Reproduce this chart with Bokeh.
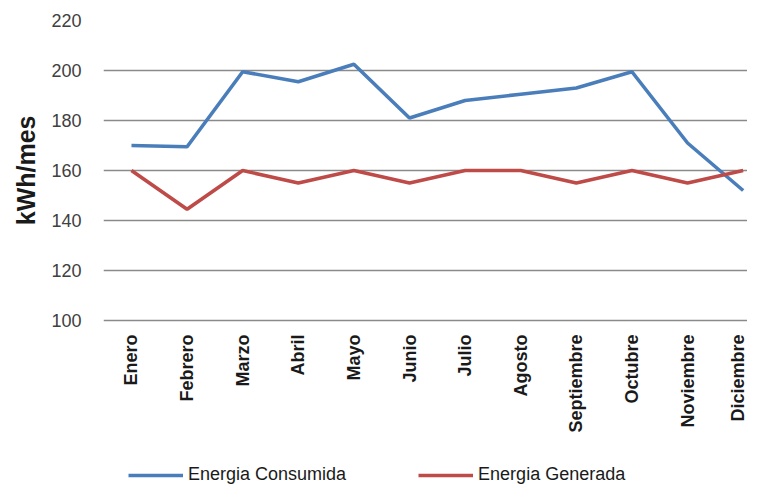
import math
from bokeh.plotting import figure
from bokeh.models import Range1d, FixedTicker, Legend, LegendItem, ColumnDataSource, Title
from bokeh.embed import file_html
from bokeh.resources import INLINE

meses = ["Enero", "Febrero", "Marzo", "Abril", "Mayo", "Junio", "Julio",
         "Agosto", "Septiembre", "Octubre", "Noviembre", "Diciembre"]
consumida = [170, 169.5, 199.5, 195.5, 202.5, 181, 188, 190.5, 193, 199.5, 171, 152]
generada = [160, 144.5, 160, 155, 160, 155, 160, 160, 155, 160, 155, 160]
y_ticks = [100, 120, 140, 160, 180, 200, 220]
y_titulo = "kWh/mes"
serie_nombres = ["Energia Consumida", "Energia Generada"]

idx = list(range(len(meses)))
src = ColumnDataSource(dict(x=idx, c=consumida, g=generada))

H = 486
TOP = 20
PX_PER_UNIT = 2.5
y_start = 220 - (H - TOP) / PX_PER_UNIT

p = figure(width=747, height=H, output_backend="svg", toolbar_location=None,
           x_range=Range1d(-0.503, 11.078), y_range=Range1d(y_start, 220),
           min_border_left=102, min_border_top=TOP, min_border_bottom=0,
           min_border_right=0)
p.outline_line_color = None
p.background_fill_color = "white"
p.border_fill_color = "white"

r1 = p.line("x", "c", source=src, line_color="#4A7EBB", line_width=3.6)
r2 = p.line("x", "g", source=src, line_color="#BE4B48", line_width=3.6)

# y axis
p.yaxis.ticker = FixedTicker(ticks=y_ticks)
p.yaxis.axis_line_color = None
p.yaxis.major_tick_line_color = None
p.yaxis.minor_tick_line_color = None
p.yaxis.major_tick_out = 0
p.yaxis.major_label_standoff = 22
p.yaxis.major_label_text_font = "Liberation Sans"
p.yaxis.major_label_text_font_size = "18px"
p.yaxis.major_label_text_color = "#404040"

# y title placed next to the 100-220 span (top aligned)
ytitle = Title(text=y_titulo, align="right", offset=95, standoff=18,
               text_font="Liberation Sans", text_font_style="bold",
               text_font_size="25px", text_color="#1a1a1a")
p.add_layout(ytitle, "left")

p.ygrid.ticker = FixedTicker(ticks=y_ticks)
p.ygrid.grid_line_color = "#8a8a8a"
p.ygrid.grid_line_width = 1.3
p.xgrid.visible = False

# x axis drawn at y = 100
p.xaxis.fixed_location = y_ticks[0]
p.xaxis.ticker = FixedTicker(ticks=idx)
p.xaxis.major_label_overrides = {i: m for i, m in zip(idx, meses)}
p.xaxis.major_label_orientation = math.pi / 2
p.xaxis.axis_line_color = None
p.xaxis.major_tick_line_color = None
p.xaxis.minor_tick_line_color = None
p.xaxis.major_tick_out = 0
p.xaxis.major_label_standoff = 14
p.xaxis.major_label_text_font = "Liberation Sans"
p.xaxis.major_label_text_font_style = "bold"
p.xaxis.major_label_text_font_size = "18px"
p.xaxis.major_label_text_color = "#1a1a1a"

legend = Legend(items=[LegendItem(label=serie_nombres[0], renderers=[r1]),
                       LegendItem(label=serie_nombres[1], renderers=[r2])],
                orientation="horizontal", location=(25, 1),
                glyph_width=55, glyph_height=16, label_height=16,
                label_standoff=5, spacing=72, padding=0, margin=0,
                border_line_color=None, background_fill_alpha=0,
                label_text_font="Liberation Sans", label_text_font_size="18px",
                label_text_color="#1a1a1a")
p.add_layout(legend, "center")

open("out.html", "w").write(file_html(p, INLINE))
